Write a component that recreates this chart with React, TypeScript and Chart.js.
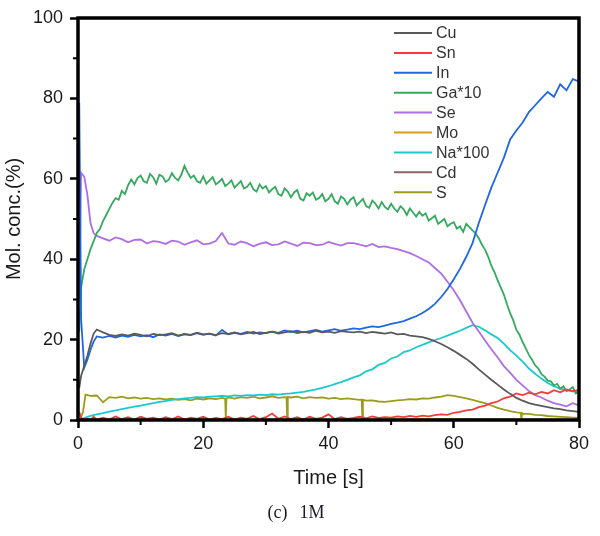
import React, { useEffect, useRef } from 'react';
import { Chart, registerables } from 'chart.js';

Chart.register(...registerables);

// time axis (s)
const TIME = [0.2, 0.5, 1, 1.5, 2, 2.5, 3,
  4, 5, 6, 7, 8, 9, 10, 11, 12, 13,
  14, 15, 16, 17, 18, 19, 20, 21, 22, 23,
  24, 25, 26, 27, 28, 29, 30, 31, 32, 33,
  34, 35, 36, 37, 38, 39, 40, 41, 42, 43,
  44, 45, 46, 47, 48, 49, 50, 51, 52, 53,
  54, 55, 56, 57, 58, 59, 60, 61, 62, 63,
  64, 65, 66, 67, 68, 69, 70, 71, 72, 73,
  74, 75, 76, 77, 78, 79, 80];

// finer time axis for the Ga*10 trace
const GA_TIME = [0.2,
  0.5, 1, 1.5, 2, 2.5, 3, 3.5, 4, 4.5,
  5, 5.5, 6, 6.5, 7, 7.5, 8, 8.5, 9, 9.5,
  10, 10.5, 11, 11.5, 12, 12.5, 13, 13.5, 14, 14.5,
  15, 15.5, 16, 16.5, 17, 17.5, 18, 18.5, 19, 19.5,
  20, 20.5, 21, 21.5, 22, 22.5, 23, 23.5, 24, 24.5,
  25, 25.5, 26, 26.5, 27, 27.5, 28, 28.5, 29, 29.5,
  30, 30.5, 31, 31.5, 32, 32.5, 33, 33.5, 34, 34.5,
  35, 35.5, 36, 36.5, 37, 37.5, 38, 38.5, 39, 39.5,
  40, 40.5, 41, 41.5, 42, 42.5, 43, 43.5, 44, 44.5,
  45, 45.5, 46, 46.5, 47, 47.5, 48, 48.5, 49, 49.5,
  50, 50.5, 51, 51.5, 52, 52.5, 53, 53.5, 54, 54.5,
  55, 55.5, 56, 56.5, 57, 57.5, 58, 58.5, 59, 59.5,
  60, 60.5, 61, 61.5, 62, 62.5, 63, 63.5, 64, 64.5,
  65, 65.5, 66, 66.5, 67, 67.5, 68, 68.5, 69, 69.5,
  70, 70.5, 71, 71.5, 72, 72.5, 73, 73.5, 74, 74.5,
  75, 75.5, 76, 76.5, 77, 77.5, 78, 78.5, 79, 79.5,
  80];

const CU = [8, 11, 13.5, 16, 19, 21.5, 22.5,
  21.8, 21.2, 20.9, 21.3, 21.0, 21.5, 21.2, 20.8, 21.4, 21.1,
  21.3, 21.6, 21.0, 21.4, 21.2, 21.7, 21.3, 21.5, 21.1, 21.6,
  21.4, 21.8, 21.3, 21.6, 21.9, 21.4, 21.7, 22.0, 21.5, 21.8,
  22.1, 21.6, 21.9, 21.7, 22.2, 21.8, 22.0, 21.7, 22.1, 21.9,
  21.8, 22.0, 21.6, 21.9, 21.7, 21.5, 21.8, 21.3, 21.4, 21.0,
  20.8, 20.6, 20.2, 19.6, 18.9, 18.1, 17.2, 16.2, 15.2, 14.0,
  12.6, 11.3, 10.0, 8.8, 7.6, 6.5, 5.5, 4.8, 4.2, 3.8,
  3.5, 3.2, 2.9, 2.7, 2.4, 2.2, 2.0];

const SN = [2, 0.5, 0, 0.3, 0, 0.8, 0.1,
  0.6, 0.1, 0.9, 0.2, 0.7, 0.1, 0.8, 0.3, 0.6, 0.1,
  0.7, 0.2, 0.9, 0.1, 0.6, 0.3, 0.8, 0.1, 0.5, 0.2,
  0.8, 0.1, 0.6, 0.3, 1.0, 0.2, 0.7, 1.6, 0.3, 0.9,
  0.2, 0.7, 0.1, 0.8, 0.3, 0.6, 1.4, 0.2, 0.7, 0.3,
  0.5, 0.8, 0.4, 0.9, 0.5, 0.7, 0.6, 0.9, 0.7, 1.0,
  0.8, 1.1, 0.9, 1.2, 1.4, 1.3, 1.8, 2.0, 2.4, 2.6,
  3.2, 3.6, 4.2, 4.6, 5.4, 5.8, 6.6, 6.2, 6.8, 6.4,
  7.0, 6.6, 7.4, 6.9, 7.6, 7.2, 7.5];

const IN = [79, 25, 13, 15, 17.5, 19.5, 20.8,
  20.5, 20.9, 20.5, 21.0, 20.7, 21.2, 20.8, 21.1, 20.6, 21.3,
  21.0, 21.4, 20.9, 21.3, 21.1, 21.6, 21.2, 21.5, 21.0, 22.4,
  21.3, 21.7, 21.4, 21.9, 21.5, 21.8, 21.6, 22.0, 21.7, 22.3,
  21.9, 22.2, 21.8, 22.1, 22.4, 22.0, 22.3, 22.6, 22.2, 22.5,
  22.8, 22.6, 23.0, 23.3, 23.1, 23.5, 23.9, 24.2, 24.6, 25.2,
  25.8, 26.6, 27.6, 28.9, 30.6, 32.6, 35.0, 37.6, 40.6, 44.0,
  49.0, 53.5, 57.8, 61.5, 65.2, 69.8, 72.0, 74.0, 76.6, 78.3,
  80.0, 81.6, 80.4, 83.5, 82.0, 84.8, 84.2];

const GA10 = [22,
  33, 37.5, 40, 42.5, 44.5, 46.5, 47.5, 49.5, 51,
  52.5, 54.0, 55.2, 54.8, 57.0, 56.2, 58.4, 59.8, 58.6, 60.2,
  60.8, 59.4, 59.0, 61.2, 60.4, 58.8, 61.0, 60.6, 59.2, 59.8,
  61.4, 60.2, 59.6, 61.0, 63.2, 61.6, 60.2, 60.8, 59.4, 59.0,
  60.6, 58.8, 59.6, 60.4, 58.6, 59.2, 60.0, 58.2, 58.8, 59.6,
  57.8, 58.6, 59.4, 57.6, 58.0, 59.0, 57.4, 56.8, 58.6, 57.6,
  58.2, 56.6, 57.4, 58.0, 56.2, 55.8, 57.6, 56.8, 55.4, 56.6,
  57.2, 55.0, 54.6, 56.4, 55.8, 56.6, 54.8, 55.2, 56.2, 54.4,
  55.0, 56.2, 54.4, 53.8, 55.6, 55.0, 53.6, 54.8, 55.4, 53.4,
  54.2, 55.0, 53.2, 52.8, 54.6, 53.8, 52.6, 54.2, 53.0, 52.4,
  53.8, 52.6, 51.8, 53.2, 52.4, 51.0, 52.6, 51.6, 50.6, 51.8,
  50.8, 51.4, 49.6, 50.2, 50.8, 48.8, 49.4, 50.0, 48.2, 48.8,
  49.2, 47.6, 48.2, 46.8, 48.8, 48.0, 47.2, 46.4, 45.2, 43.6,
  42.4, 40.6, 38.4, 36.8, 34.8, 33.0, 31.2, 28.8, 26.6, 24.8,
  22.4, 21.2, 19.4, 17.8, 16.2, 15.0, 13.6, 12.8, 11.4, 10.8,
  9.8, 9.6, 8.6, 9.0, 7.8, 8.4, 7.2, 7.6, 8.2, 6.6,
  7.0];

const SE = [30, 61.5, 60.5, 56, 49, 46.5, 45.8,
  45.2, 44.6, 45.4, 45.0, 44.2, 44.8, 44.9, 43.9, 44.5, 44.3,
  43.8, 44.6, 44.4, 43.6, 44.2, 44.7, 43.7, 43.9, 44.5, 46.5,
  43.9, 43.6, 44.4, 44.0, 43.2, 43.8, 44.2, 43.5, 43.7, 44.4,
  43.9, 43.3, 44.1, 44.0, 43.5, 43.6, 44.3, 43.8, 43.4, 44.0,
  44.0, 43.6, 43.2, 43.8, 43.0, 43.2, 42.8, 42.5, 42.0, 41.5,
  40.8, 40.0, 39.2, 37.8, 36.4, 34.4, 32.3, 29.8, 27.0, 24.2,
  22.0, 19.8, 17.6, 15.6, 13.4, 11.8, 10.0, 8.6, 7.2, 6.2,
  5.6, 4.8, 4.2, 3.8, 3.4, 4.2, 3.6];

const NA100 = [0, 0.2, 0.5, 0.8, 1.0, 1.2, 1.4,
  1.7, 2.1, 2.4, 2.7, 3.0, 3.3, 3.6, 3.9, 4.2, 4.5,
  4.7, 5.0, 5.2, 5.4, 5.5, 5.7, 5.6, 5.8, 5.9, 6.0,
  5.9, 6.1, 6.0, 6.2, 6.1, 6.3, 6.2, 6.4, 6.3, 6.5,
  6.6, 6.8, 7.0, 7.3, 7.6, 8.0, 8.4, 8.9, 9.4, 10.0,
  10.6, 11.1, 12.1, 12.6, 13.7, 14.2, 15.3, 15.8, 16.9, 17.3,
  18.1, 18.7, 19.3, 19.9, 20.4, 21.0, 21.6, 22.2, 22.9, 23.6,
  23.2, 22.3, 21.3, 20.4, 19.0, 17.4, 16.0, 14.5, 12.8, 11.5,
  10.3, 9.2, 8.4, 7.8, 7.4, 7.1, 7.0];

const TRACE_TIME = [0, 20, 40, 60, 80];
const MO = [0.1, 0.2, 0.1, 0.2, 0.1];
const CD = [0, 0.1, 0, 0.1, 0];

const S_TIME = [0.3, 0.8, 1.2, 2, 3,
  4, 5, 6, 7, 8, 9, 10, 11, 12, 13,
  14, 15, 16, 17, 18, 19, 20, 21, 22, 23,
  23.5, 23.6, 23.7,
  24, 25, 26, 27, 28, 29, 30, 31, 32, 33,
  33.3, 33.4, 33.5,
  34, 35, 36, 37, 38, 39, 40, 41, 42, 43, 44, 45,
  45.3, 45.4, 45.5,
  46, 47, 48, 49, 50, 51, 52, 53,
  54, 55, 56, 57, 58, 59, 60, 61, 62, 63,
  64, 65, 66, 67, 68, 69, 70,
  70.7, 70.8, 70.9,
  71, 72, 73, 74, 75, 76, 77, 78, 79, 80];
const S = [0, 2, 6.3, 6.0, 6.1,
  4.4, 5.7, 5.5, 5.8, 5.4, 5.6, 5.3, 5.5, 5.2, 5.4,
  5.1, 5.3, 5.0, 5.2, 4.9, 5.3, 5.1, 5.4, 5.2, 5.5,
  5.3, 0.3, 5.4,
  5.6, 5.3, 5.7, 5.5, 5.8, 5.4, 5.6, 5.9, 5.5, 5.7,
  5.6, 0.2, 5.7,
  5.6, 5.8, 5.4, 5.7, 5.5, 5.6, 5.3, 5.5, 5.2, 5.4, 5.2, 5.0,
  5.1, 0.2, 5.0,
  4.8, 4.9, 4.6, 4.5, 4.7, 4.9, 5.0, 5.2,
  5.1, 5.4, 5.3, 5.6, 5.8, 6.2, 6.0, 5.7, 5.4, 5.0,
  4.6, 4.2, 3.6, 3.0, 2.6, 2.2, 1.9,
  1.8, 0.1, 1.7,
  1.6, 1.5, 1.3, 1.2, 1.0, 0.9, 0.8, 0.7, 0.6, 0.5];

const LABELS = ['Cu', 'Sn', 'In', 'Ga*10', 'Se', 'Mo', 'Na*100', 'Cd', 'S'];
const COLORS = ['#5a5a5a', '#f23c3c', '#1f66e5', '#35a95e', '#b06ee2', '#d4a017', '#1cc8cf', '#8c6666', '#9c9c1c'];

const X_TICK_MAJOR = [0, 20, 40, 60, 80];
const X_TICK_MINOR = [10, 30, 50, 70];
const Y_TICK_MINOR = [10, 30, 50, 70, 90];

const FONT = '"Liberation Sans", Arial, sans-serif';

const pts = (xs: number[], ys: number[]) => xs.map((x, i) => ({ x, y: ys[i] }));

const framePlugin = {
  id: 'frame',
  afterDatasetsDraw(chart: any) {
    const { ctx, chartArea: a, scales } = chart;
    ctx.save();
    ctx.strokeStyle = '#000';
    ctx.lineWidth = 2;
    ctx.beginPath();
    X_TICK_MINOR.forEach((v) => {
      const px = scales.x.getPixelForValue(v);
      ctx.moveTo(px, a.bottom);
      ctx.lineTo(px, a.bottom + 5);
    });
    Y_TICK_MINOR.forEach((v) => {
      const py = scales.y.getPixelForValue(v);
      ctx.moveTo(a.left, py);
      ctx.lineTo(a.left - 5, py);
    });
    ctx.stroke();
    ctx.lineWidth = 3.5;
    ctx.strokeRect(a.left, a.top, a.right - a.left, a.bottom - a.top);
    ctx.restore();
  },
};

const legendPlugin = {
  id: 'innerLegend',
  afterDraw(chart: any) {
    const { ctx } = chart;
    ctx.save();
    ctx.font = `16px ${FONT}`;
    ctx.textBaseline = 'middle';
    ctx.textAlign = 'left';
    chart.data.datasets.forEach((ds: any, i: number) => {
      const y = 33 + i * 19.9;
      ctx.strokeStyle = ds.borderColor;
      ctx.lineWidth = 2;
      ctx.beginPath();
      ctx.moveTo(394, y);
      ctx.lineTo(432, y);
      ctx.stroke();
      ctx.fillStyle = '#333';
      ctx.fillText(ds.label, 436, y + 1);
    });
    ctx.restore();
  },
};

export default function App() {
  const ref = useRef<HTMLCanvasElement | null>(null);

  useEffect(() => {
    if (!ref.current) return;
    const series = [
      pts(TIME, CU), pts(TIME, SN), pts(TIME, IN), pts(GA_TIME, GA10), pts(TIME, SE),
      pts(TRACE_TIME, MO), pts(TIME, NA100), pts(TRACE_TIME, CD), pts(S_TIME, S),
    ];
    const chart = new Chart(ref.current, {
      type: 'line',
      data: {
        datasets: series.map((d, i) => ({
          label: LABELS[i],
          data: d,
          borderColor: COLORS[i],
          backgroundColor: COLORS[i],
          borderWidth: 1.8,
          pointRadius: 0,
          tension: 0,
          fill: false,
        })),
      },
      options: {
        animation: false,
        responsive: false,
        devicePixelRatio: 1,
        layout: { padding: { top: 18, right: 21, bottom: 46, left: 0 } },
        plugins: { legend: { display: false }, tooltip: { enabled: false } },
        scales: {
          x: {
            type: 'linear',
            min: 0,
            max: 80,
            afterFit: (s: any) => { s.height = 70; },
            afterBuildTicks: (s: any) => {
              s.ticks = [...X_TICK_MAJOR, ...X_TICK_MINOR].sort((a, b) => a - b).map((v) => ({ value: v }));
            },
            ticks: {
              autoSkip: false,
              maxRotation: 0,
              padding: 5,
              color: '#1a1a1a',
              font: { family: FONT, size: 18 },
              callback: (v: any) => (X_TICK_MAJOR.includes(Number(v)) ? String(v) : ''),
            },
            grid: {
              drawOnChartArea: false,
              drawTicks: true,
              tickLength: 8,
              tickWidth: 2.5,
              tickColor: (c: any) => (X_TICK_MAJOR.includes(c.tick?.value) ? '#000' : 'rgba(0,0,0,0)'),
            },
            border: { display: false },
            title: {
              display: true,
              text: 'Time [s]',
              color: '#1a1a1a',
              font: { family: FONT, size: 20 },
              padding: { top: 0, bottom: 0 },
            },
          },
          y: {
            min: 0,
            max: 100,
            afterFit: (s: any) => { s.width = 78; },
            ticks: {
              stepSize: 20,
              padding: 7,
              color: '#1a1a1a',
              font: { family: FONT, size: 18 },
            },
            grid: {
              drawOnChartArea: false,
              drawTicks: true,
              tickLength: 8,
              tickWidth: 2.5,
              tickColor: '#000',
            },
            border: { display: false },
            title: {
              display: true,
              text: 'Mol. conc.(%)',
              color: '#1a1a1a',
              font: { family: FONT, size: 20 },
              padding: { top: 2, bottom: 0 },
            },
          },
        },
      },
      plugins: [framePlugin, legendPlugin],
    });
    return () => chart.destroy();
  }, []);

  return (
    <div style={{ position: 'absolute', left: 0, top: 0, width: 600, height: 536, background: '#fff' }}>
      <canvas ref={ref} width={600} height={536} style={{ width: 600, height: 536, display: 'block' }} />
      <div
        style={{
          position: 'absolute',
          left: 0,
          width: 592,
          top: 502,
          textAlign: 'center',
          fontFamily: '"Liberation Serif", "DejaVu Serif", serif',
          fontSize: 18,
          color: '#1a1a2a',
          whiteSpace: 'pre',
        }}
      >
        (c)<span style={{ marginLeft: 12 }}>1M</span>
      </div>
    </div>
  );
}
